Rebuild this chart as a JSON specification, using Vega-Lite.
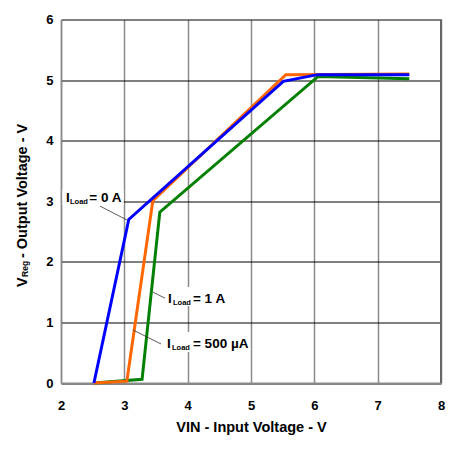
{
  "$schema": "https://vega.github.io/schema/vega-lite/v6.json",
  "width": 380,
  "height": 363.5,
  "autosize": {"type": "none"},
  "padding": {"left": 61, "top": 19.5, "right": 13, "bottom": 67},
  "background": "white",
  "config": {
    "view": {"stroke": null},
    "font": "Liberation Sans",
    "axis": {"labelFont": "Liberation Sans", "titleFont": "Liberation Sans"}
  },
  "datasets": {
    "curves": [
      {"series": "1 A", "x": 2.52, "y": 0},
      {"series": "1 A", "x": 3.28, "y": 0.06},
      {"series": "1 A", "x": 3.56, "y": 2.82},
      {"series": "1 A", "x": 6.06, "y": 5.06},
      {"series": "1 A", "x": 7.5, "y": 5.02},
      {"series": "500 µA", "x": 2.52, "y": 0},
      {"series": "500 µA", "x": 3.04, "y": 0.03},
      {"series": "500 µA", "x": 3.45, "y": 3.01},
      {"series": "500 µA", "x": 5.55, "y": 5.09},
      {"series": "500 µA", "x": 7.5, "y": 5.1},
      {"series": "0 A", "x": 2.52, "y": 0},
      {"series": "0 A", "x": 3.07, "y": 2.7},
      {"series": "0 A", "x": 5.51, "y": 4.98},
      {"series": "0 A", "x": 6.05, "y": 5.09},
      {"series": "0 A", "x": 7.5, "y": 5.09}
    ],
    "boxes": [
      {"x": 2.02, "x2": 2.99, "y": 2.94, "y2": 3.19},
      {"x": 3.66, "x2": 4.67, "y": 1.27, "y2": 1.585},
      {"x": 3.64, "x2": 4.95, "y": 0.51, "y2": 0.84}
    ],
    "leaders": [
      {"x": 2.616, "y": 2.92, "x2": 3.042, "y2": 2.69},
      {"x": 3.453, "y": 1.5, "x2": 3.642, "y2": 1.4},
      {"x": 3.137, "y": 0.875, "x2": 3.579, "y2": 0.644}
    ],
    "labels": [
      {"role": "main", "x": 2.079, "y": 2.983, "text": "I"},
      {"role": "sub", "x": 2.142, "y": 2.955, "text": "Load"},
      {"role": "main", "x": 2.447, "y": 2.983, "text": "= 0 A"},
      {"role": "main", "x": 3.689, "y": 1.321, "text": "I"},
      {"role": "sub", "x": 3.768, "y": 1.288, "text": "Load"},
      {"role": "main", "x": 4.084, "y": 1.321, "text": "= 1 A"},
      {"role": "main", "x": 3.674, "y": 0.578, "text": "I"},
      {"role": "sub", "x": 3.753, "y": 0.545, "text": "Load"},
      {"role": "main", "x": 4.084, "y": 0.578, "text": "= 500 µA"},
      {"role": "ymain", "x": 1.463, "y": 1.585, "text": "V"},
      {"role": "ysub", "x": 1.479, "y": 1.75, "text": "Reg"},
      {"role": "ymain", "x": 1.463, "y": 2.063, "text": "- Output Voltage - V"}
    ]
  },
  "encoding": {
    "x": {
      "field": "x",
      "type": "quantitative",
      "scale": {"domain": [2, 8], "nice": false, "zero": false},
      "axis": {
        "title": "VIN - Input Voltage - V",
        "values": [2, 3, 4, 5, 6, 7, 8],
        "ticks": false,
        "tickSize": 0,
        "labelFlush": false,
        "labelOverlap": false,
        "labelPadding": 16,
        "labelFontSize": 13,
        "labelFontWeight": "bold",
        "labelColor": "black",
        "titleFontSize": 14.5,
        "titleFontWeight": "bold",
        "titleColor": "black",
        "titlePadding": 8,
        "domainColor": "#8a8a8a",
        "domainWidth": 2,
        "grid": true,
        "gridColor": "#8a8a8a",
        "gridWidth": 1.5,
        "gridOpacity": 1
      }
    },
    "y": {
      "field": "y",
      "type": "quantitative",
      "scale": {"domain": [0, 6], "nice": false, "zero": false},
      "axis": {
        "title": null,
        "values": [0, 1, 2, 3, 4, 5, 6],
        "ticks": false,
        "tickSize": 0,
        "labelFlush": false,
        "labelOverlap": false,
        "labelPadding": 8,
        "labelFontSize": 13,
        "labelFontWeight": "bold",
        "labelColor": "black",
        "domainColor": "#8a8a8a",
        "domainWidth": 1.5,
        "grid": true,
        "gridColor": "#000000",
        "gridWidth": 1,
        "gridOpacity": 1
      }
    }
  },
  "layer": [
    {
      "data": {"name": "boxes"},
      "mark": {"type": "rect", "fill": "white", "stroke": null},
      "encoding": {"x2": {"field": "x2"}, "y2": {"field": "y2"}}
    },
    {
      "data": {"values": [{"x": 8, "y": 0}, {"x": 8, "y": 6}]},
      "mark": {"type": "line", "color": "#666666", "strokeWidth": 2},
      "encoding": {}
    },
    {
      "data": {"name": "curves"},
      "mark": {"type": "line", "strokeWidth": 3, "strokeJoin": "miter", "clip": false},
      "encoding": {
        "color": {
          "field": "series",
          "type": "nominal",
          "scale": {"domain": ["1 A", "500 µA", "0 A"], "range": ["#008000", "#FF6600", "#0000FF"]},
          "legend": null
        },
        "order": {"value": 0}
      }
    },
    {
      "data": {"name": "leaders"},
      "mark": {"type": "rule", "color": "#333333", "strokeWidth": 0.8},
      "encoding": {"x2": {"field": "x2"}, "y2": {"field": "y2"}}
    },
    {
      "data": {"name": "labels"},
      "transform": [{"filter": "datum.role === 'main'"}],
      "mark": {"type": "text", "align": "left", "baseline": "alphabetic", "fontSize": 13.5, "fontWeight": "bold", "color": "black"},
      "encoding": {"text": {"field": "text"}}
    },
    {
      "data": {"name": "labels"},
      "transform": [{"filter": "datum.role === 'sub'"}],
      "mark": {"type": "text", "align": "left", "baseline": "alphabetic", "fontSize": 7.5, "fontWeight": "bold", "color": "black"},
      "encoding": {"text": {"field": "text"}}
    },
    {
      "data": {"name": "labels"},
      "transform": [{"filter": "datum.role === 'ymain'"}],
      "mark": {"type": "text", "align": "left", "baseline": "alphabetic", "angle": 270, "fontSize": 14.5, "fontWeight": "bold", "color": "black"},
      "encoding": {"text": {"field": "text"}}
    },
    {
      "data": {"name": "labels"},
      "transform": [{"filter": "datum.role === 'ysub'"}],
      "mark": {"type": "text", "align": "left", "baseline": "alphabetic", "angle": 270, "fontSize": 8.5, "fontWeight": "bold", "color": "black"},
      "encoding": {"text": {"field": "text"}}
    }
  ]
}
